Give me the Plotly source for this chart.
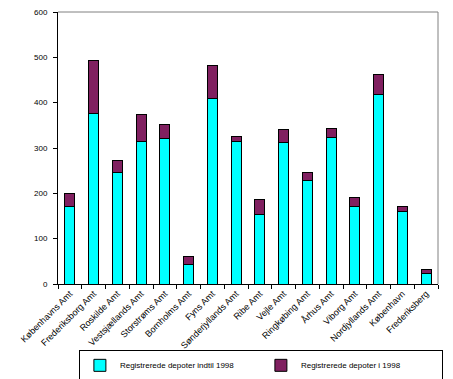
import plotly.graph_objects as go

categories = ["Københavns Amt", "Frederiksborg Amt", "Roskilde Amt", "Vestsjællands Amt",
              "Storstrøms Amt", "Bornholms Amt", "Fyns Amt", "Sønderjyllands Amt",
              "Ribe Amt", "Vejle Amt", "Ringkøbing Amt", "Århus Amt", "Viborg Amt",
              "Nordjyllands Amt", "København", "Frederiksberg"]
until_1998 = [171, 377, 245, 315, 320, 44, 410, 315, 154, 313, 229, 324, 170, 417, 159, 24]
in_1998 = [29, 115, 28, 58, 31, 16, 73, 10, 33, 27, 16, 18, 20, 46, 11, 7]
y_ticks = [0, 100, 200, 300, 400, 500, 600]

font = "Arial, Liberation Sans, sans-serif"

fig = go.Figure()
fig.add_trace(go.Bar(x=categories, y=until_1998, name="Registrerede depoter indtil 1998",
                     marker=dict(color="#00FFFF", line=dict(color="black", width=1))))
fig.add_trace(go.Bar(x=categories, y=in_1998, name="Registrerede depoter i 1998",
                     marker=dict(color="#802060", line=dict(color="black", width=1))))

fig.update_layout(
    barmode="stack",
    bargap=0.58,
    width=453, height=379,
    margin=dict(l=58, r=15, t=12, b=95, autoexpand=False),
    plot_bgcolor="white", paper_bgcolor="white",
    font=dict(family=font, size=8, color="black"),
    showlegend=True,
    legend=dict(orientation="h", x=0.055, xanchor="left", y=-0.356, yanchor="bottom",
                bordercolor="black", borderwidth=1, font=dict(size=8),
                entrywidth=136, entrywidthmode="pixels", itemwidth=30,
                traceorder="normal", tracegroupgap=0),
    xaxis=dict(tickangle=-45, tickfont=dict(size=9), showline=True, linecolor="black",
               linewidth=1, ticks="outside", ticklen=4, tickcolor="black",
               tickson="boundaries", showgrid=False, automargin=False),
    yaxis=dict(range=[0, 600], tickvals=y_ticks, showline=True, linecolor="black",
               linewidth=1, ticks="outside", ticklen=4, tickcolor="black",
               showgrid=False, zeroline=False, ticklabelstandoff=4, automargin=False),
    shapes=[
        dict(type="line", xref="paper", yref="paper", x0=0, x1=1, y0=1, y1=1,
             line=dict(color="#808080", width=1)),
        dict(type="line", xref="paper", yref="paper", x0=1, x1=1, y0=0, y1=1,
             line=dict(color="#808080", width=1)),
    ],
)

fig.write_html("out.html", config={"displayModeBar": False, "staticPlot": True},
               post_script="document.body.style.margin='0';document.body.style.overflow='hidden';")
